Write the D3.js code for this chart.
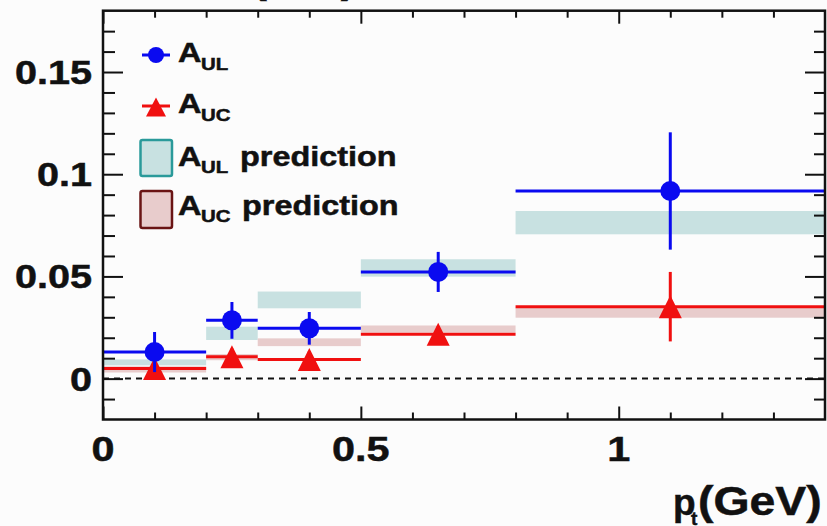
<!DOCTYPE html>
<html>
<head>
<meta charset="utf-8">
<script src="https://cdn.jsdelivr.net/npm/d3@7"></script>
<style>
  html, body { margin: 0; padding: 0; background: #fcfcfc; }
  svg { display: block; }
  text { font-family: "Liberation Sans", Arial, Helvetica, sans-serif; font-weight: bold; fill: #111; stroke: #111; stroke-width: 0.5; }
</style>
</head>
<body>
<svg id="chart" width="827" height="526"></svg>
<script>
// ---------------- data ----------------
const binLo   = [0.0, 0.2, 0.3, 0.5, 0.8];
const binHi   = [0.2, 0.3, 0.5, 0.8, 1.4];
const binCtr  = [0.1, 0.25, 0.4, 0.65, 1.1];

const aulVal  = [0.0130, 0.0285, 0.0246, 0.0522, 0.0918];
const aulErr  = [0.0098, 0.0090, 0.0080, 0.0098, 0.0287];

const aucVal  = [0.0049, 0.0107, 0.0094, 0.0217, 0.0352];
const aucErr  = [0.0040, 0.0040, 0.0040, 0.0040, 0.0170];

const aulPredLo = [0.0065, 0.0189, 0.0344, 0.0499, 0.0706];
const aulPredHi = [0.0094, 0.0254, 0.0426, 0.0584, 0.0820];
const aucPredLo = [0.0030, 0.0090, 0.0159, 0.0225, 0.0298];
const aucPredHi = [0.0060, 0.0120, 0.0197, 0.0260, 0.0347];

const xMajor = [0, 0.5, 1];
const xMajorLabels = ["0", "0.5", "1"];
const xMinor = [0.1, 0.2, 0.3, 0.4, 0.6, 0.7, 0.8, 0.9, 1.1, 1.2, 1.3];
const yMajor = [0, 0.05, 0.1, 0.15];
const yMajorLabels = ["0", "0.05", "0.1", "0.15"];
const yMinor = [-0.01, 0.01, 0.02, 0.03, 0.04, 0.06, 0.07, 0.08, 0.09, 0.11, 0.12, 0.13, 0.14, 0.16, 0.17];

// ---------------- layout ----------------
const L = 103, R = 825, T = 10.7, B = 419.5;
const svg = d3.select("#chart");
const x = d3.scaleLinear().domain([0, 1.4]).range([L, R]);
const y = d3.scaleLinear().domain([-0.02, 0.18]).range([B, T]);

const BLUE = "#0a0af0", RED = "#f01010";
const TEAL_FILL = "#c8e1e1", PINK_FILL = "#e8cccc";
const TEAL_STROKE = "#2a9a9a", DRED_STROKE = "#6a1414";

const idx = d3.range(binLo.length);

// ROOT-like triangle marker, centred on its bounding box
function tri(w, h) {
  return `M0,${-h / 2}L${w / 2},${h / 2}L${-w / 2},${h / 2}Z`;
}

// stretched text helper
function stext(g, str, px, py, size, sx, anchor) {
  return g.append("text")
    .attr("transform", `translate(${px},${py}) scale(${sx},1)`)
    .attr("font-size", size)
    .attr("text-anchor", anchor || "start")
    .text(str);
}

// partially visible title parentheses at very top
stext(svg, "(", 252, -7, 40, 1.1, "start");
stext(svg, ")", 341, -7, 40, 1.1, "start");

// ---------------- bands ----------------
const plot = svg.append("g");
plot.selectAll("rect.aul").data(idx).join("rect")
  .attr("x", i => x(binLo[i])).attr("width", i => x(binHi[i]) - x(binLo[i]))
  .attr("y", i => y(aulPredHi[i])).attr("height", i => y(aulPredLo[i]) - y(aulPredHi[i]))
  .attr("fill", TEAL_FILL);
plot.selectAll("rect.auc").data(idx).join("rect")
  .attr("x", i => x(binLo[i])).attr("width", i => x(binHi[i]) - x(binLo[i]))
  .attr("y", i => y(aucPredHi[i])).attr("height", i => y(aucPredLo[i]) - y(aucPredHi[i]))
  .attr("fill", PINK_FILL);

// zero dashed line
plot.append("line")
  .attr("x1", x(0)).attr("x2", x(1.4)).attr("y1", y(0)).attr("y2", y(0))
  .attr("stroke", "#111").attr("stroke-width", 2).attr("stroke-dasharray", "6,5");

// ---------------- A_UC (red) ----------------
const gUC = plot.append("g");
gUC.selectAll("line.h").data(idx).join("line")
  .attr("x1", i => x(binLo[i])).attr("x2", i => x(binHi[i]))
  .attr("y1", i => y(aucVal[i])).attr("y2", i => y(aucVal[i]))
  .attr("stroke", RED).attr("stroke-width", 3);
gUC.selectAll("line.v").data(idx).join("line")
  .attr("x1", i => x(binCtr[i])).attr("x2", i => x(binCtr[i]))
  .attr("y1", i => y(aucVal[i] - aucErr[i])).attr("y2", i => y(aucVal[i] + aucErr[i]))
  .attr("stroke", RED).attr("stroke-width", 3);
gUC.selectAll("path").data(idx).join("path")
  .attr("d", tri(23, 23))
  .attr("transform", i => `translate(${x(binCtr[i])},${y(aucVal[i])})`)
  .attr("fill", RED);

// ---------------- A_UL (blue) ----------------
const gUL = plot.append("g");
gUL.selectAll("line.h").data(idx).join("line")
  .attr("x1", i => x(binLo[i])).attr("x2", i => x(binHi[i]))
  .attr("y1", i => y(aulVal[i])).attr("y2", i => y(aulVal[i]))
  .attr("stroke", BLUE).attr("stroke-width", 3);
gUL.selectAll("line.v").data(idx).join("line")
  .attr("x1", i => x(binCtr[i])).attr("x2", i => x(binCtr[i]))
  .attr("y1", i => y(aulVal[i] - aulErr[i])).attr("y2", i => y(aulVal[i] + aulErr[i]))
  .attr("stroke", BLUE).attr("stroke-width", 3);
gUL.selectAll("circle").data(idx).join("circle")
  .attr("cx", i => x(binCtr[i])).attr("cy", i => y(aulVal[i])).attr("r", 10)
  .attr("fill", BLUE);

// ---------------- axes (ROOT style, inward ticks) ----------------
function axisStyle(g) {
  g.select(".domain").remove();
  g.selectAll("line").attr("stroke", "#111").attr("stroke-width", 2);
  g.selectAll("text").remove();
}
svg.append("g").attr("transform", `translate(0,${B})`)
  .call(d3.axisBottom(x).tickValues(xMajor).tickSize(-13)).call(axisStyle);
svg.append("g").attr("transform", `translate(0,${B})`)
  .call(d3.axisBottom(x).tickValues(xMinor).tickSize(-7)).call(axisStyle);
svg.append("g").attr("transform", `translate(0,${T})`)
  .call(d3.axisTop(x).tickValues(xMajor).tickSize(-13)).call(axisStyle);
svg.append("g").attr("transform", `translate(0,${T})`)
  .call(d3.axisTop(x).tickValues(xMinor).tickSize(-7)).call(axisStyle);
svg.append("g").attr("transform", `translate(${L},0)`)
  .call(d3.axisLeft(y).tickValues(yMajor).tickSize(-20)).call(axisStyle);
svg.append("g").attr("transform", `translate(${L},0)`)
  .call(d3.axisLeft(y).tickValues(yMinor).tickSize(-12)).call(axisStyle);
svg.append("g").attr("transform", `translate(${R},0)`)
  .call(d3.axisRight(y).tickValues(yMajor).tickSize(-20)).call(axisStyle);
svg.append("g").attr("transform", `translate(${R},0)`)
  .call(d3.axisRight(y).tickValues(yMinor).tickSize(-11)).call(axisStyle);

// frame
svg.append("rect").attr("x", L).attr("y", T).attr("width", R - L).attr("height", B - T)
  .attr("fill", "none").attr("stroke", "#111").attr("stroke-width", 2.5);

// tick labels
const labG = svg.append("g");
yMajor.forEach((v, k) => stext(labG, yMajorLabels[k], 92, y(v) + 12, 33, 1.2, "end"));
xMajor.forEach((v, k) => stext(labG, xMajorLabels[k], x(v), 461, 36, 1.15, "middle"));

// x title p_t(GeV)
stext(labG, "p", 673, 515, 37, 1.0, "start");
stext(labG, "t", 691, 525, 19, 1.0, "start");
stext(labG, "(GeV)", 698, 515, 40, 1.16, "start");

// ---------------- legend ----------------
const lg = svg.append("g");
// entry 1: A_UL
lg.append("line").attr("x1", 142).attr("x2", 170).attr("y1", 55).attr("y2", 55)
  .attr("stroke", BLUE).attr("stroke-width", 3);
lg.append("circle").attr("cx", 156).attr("cy", 55).attr("r", 8).attr("fill", BLUE);
stext(lg, "A", 178, 62, 27, 1.2);
stext(lg, "UL", 201, 70, 17, 1.2);
// entry 2: A_UC
lg.append("line").attr("x1", 142).attr("x2", 170).attr("y1", 106).attr("y2", 106)
  .attr("stroke", RED).attr("stroke-width", 3);
lg.append("path").attr("d", tri(20, 19))
  .attr("transform", "translate(156,107)").attr("fill", RED);
stext(lg, "A", 178, 113, 27, 1.2);
stext(lg, "UC", 201, 121, 17, 1.2);
// entry 3: A_UL prediction
lg.append("rect").attr("x", 140.5).attr("y", 140).attr("width", 31.5).attr("height", 36)
  .attr("rx", 2).attr("fill", TEAL_FILL).attr("stroke", TEAL_STROKE).attr("stroke-width", 2.5);
stext(lg, "A", 178, 166, 27, 1.2);
stext(lg, "UL", 201, 173, 17, 1.2);
stext(lg, "prediction", 240, 166, 27, 1.2);
// entry 4: A_UC prediction
lg.append("rect").attr("x", 140.5).attr("y", 191).attr("width", 31.5).attr("height", 37)
  .attr("rx", 2).attr("fill", PINK_FILL).attr("stroke", DRED_STROKE).attr("stroke-width", 2.5);
stext(lg, "A", 178, 215, 27, 1.2);
stext(lg, "UC", 201, 222, 17, 1.2);
stext(lg, "prediction", 242, 215, 27, 1.2);
</script>
</body>
</html>
